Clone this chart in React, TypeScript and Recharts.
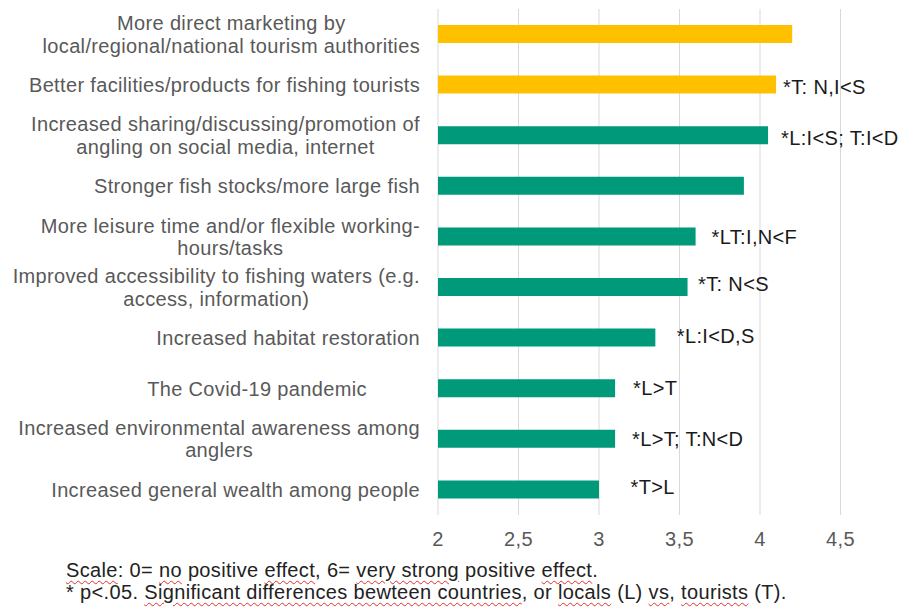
import React from 'react';
import { BarChart, Bar, XAxis, YAxis, CartesianGrid, Cell, LabelList } from 'recharts';

// ---- data ----
const categories: string[] = [
  'More direct marketing by\nlocal/regional/national tourism authorities',
  'Better facilities/products for fishing tourists',
  'Increased sharing/discussing/promotion of\nangling on social media, internet',
  'Stronger fish stocks/more large fish',
  'More leisure time and/or flexible working-\nhours/tasks',
  'Improved accessibility to fishing waters (e.g.\naccess, information)',
  'Increased habitat restoration',
  'The Covid-19 pandemic\u00A0\u00A0\u00A0\u00A0\u00A0\u00A0\u00A0\u00A0\u00A0',
  'Increased environmental awareness among\nanglers',
  'Increased general wealth among people',
];
const meanEffect: number[] = [4.2, 4.1, 4.05, 3.9, 3.6, 3.55, 3.35, 3.1, 3.1, 3.0];
const significance: string[] = [
  '',
  '*T: N,I<S',
  '*L:I<S; T:I<D',
  '',
  '*LT:I,N<F',
  '*T: N<S',
  '*L:I<D,S',
  '*L>T',
  '*L>T; T:N<D',
  '*T>L',
];
const factorGroup: string[] = ['top', 'top', 'other', 'other', 'other', 'other', 'other', 'other', 'other', 'other'];
const xTicks: number[] = [2, 2.5, 3, 3.5, 4, 4.5];

const chartData = categories.map((category, i) => ({
  category,
  value: meanEffect[i],
  note: significance[i],
  group: factorGroup[i],
}));

// ---- styles ----
const FONT = '"Liberation Sans", Arial, Helvetica, sans-serif';
const FONT_SIZE = 20;
const LETTER_SPACING = 0.35;
const LINE_HEIGHT = 22.5;
const LABEL_COLOR = '#595959';
const GROUP_COLORS: Record<string, string> = { top: '#FFC000', other: '#00997A' };

// manual placement tweaks for the annotation text boxes (pixels relative to bar end / bar centre)
const NOTE_NUDGE: Record<string, [number, number]> = {
  '*T: N,I<S': [7, 2.5],
  '*L:I<S; T:I<D': [13, 3],
  '*LT:I,N<F': [16, 0],
  '*T: N<S': [10.5, -3.5],
  '*L:I<D,S': [21.5, -2],
  '*L>T': [18, 0],
  '*L>T; T:N<D': [17, 0],
  '*T>L': [31.5, -2.5],
};

let measureCtx: CanvasRenderingContext2D | null = null;
function measure(text: string): number {
  if (!measureCtx) {
    measureCtx = document.createElement('canvas').getContext('2d');
  }
  if (!measureCtx) return text.length * FONT_SIZE * 0.5;
  measureCtx.font = `${FONT_SIZE}px "Liberation Sans", Arial, sans-serif`;
  return measureCtx.measureText(text).width + text.length * LETTER_SPACING;
}

function CategoryTick(props: any) {
  const { x, y, payload } = props;
  const lines = String(payload.value).split('\n');
  const w = Math.max(...lines.map((l) => measure(l)));
  const cx = x - w / 2;
  return (
    <g>
      {lines.map((l, i) => (
        <text
          key={i}
          x={cx}
          y={y + (i - (lines.length - 1) / 2) * LINE_HEIGHT}
          dy="0.355em"
          textAnchor="middle"
          fontSize={FONT_SIZE}
          fontFamily={FONT}
          letterSpacing={LETTER_SPACING}
          fill={LABEL_COLOR}
        >
          {l}
        </text>
      ))}
    </g>
  );
}

function NoteLabel(props: any) {
  const { x, y, width, height, value } = props;
  if (!value) return null;
  const [dx, dy] = NOTE_NUDGE[value] || [10, 0];
  return (
    <text
      x={Number(x) + Number(width) + dx}
      y={Number(y) + Number(height) / 2 + dy}
      dy="0.355em"
      textAnchor="start"
      fontSize={FONT_SIZE}
      fontFamily={FONT}
      letterSpacing={LETTER_SPACING}
      fill="#1a1a1a"
    >
      {value}
    </text>
  );
}

const squiggle: React.CSSProperties = {
  textDecorationLine: 'underline',
  textDecorationStyle: 'wavy',
  textDecorationColor: '#e03030',
  textDecorationThickness: '1px',
  textUnderlineOffset: '3px',
};

export default function App() {
  return (
    <div style={{ position: 'absolute', left: 0, top: 0, width: 899, height: 608, background: '#fff', overflow: 'hidden' }}>
      <BarChart
        width={941}
        height={560}
        data={chartData}
        layout="vertical"
        margin={{ top: 9, right: 20, bottom: 0, left: 0 }}
      >
        <CartesianGrid horizontal={false} stroke="#d9d9d9" strokeWidth={1} />
        <XAxis
          type="number"
          domain={[2, 5]}
          allowDataOverflow
          ticks={xTicks}
          tickFormatter={(v: number) => String(v).replace('.', ',')}
          axisLine={false}
          tickLine={false}
          tickMargin={11}
          height={45}
          tick={{ fontSize: FONT_SIZE, fill: LABEL_COLOR, fontFamily: FONT, letterSpacing: LETTER_SPACING }}
        />
        <YAxis
          type="category"
          dataKey="category"
          width={438}
          axisLine={false}
          tickLine={false}
          tickMargin={12}
          interval={0}
          tick={<CategoryTick />}
        />
        <Bar dataKey="value" barSize={18} isAnimationActive={false}>
          {chartData.map((d, i) => (
            <Cell key={i} fill={GROUP_COLORS[d.group]} />
          ))}
          <LabelList dataKey="note" content={<NoteLabel />} />
        </Bar>
      </BarChart>
      <div
        style={{
          position: 'absolute',
          left: 66,
          top: 559,
          fontFamily: FONT,
          fontSize: FONT_SIZE,
          letterSpacing: LETTER_SPACING,
          lineHeight: '22px',
          color: '#222',
          whiteSpace: 'nowrap',
        }}
      >
        <div>
          <span style={squiggle}>Scale</span>: 0= <span style={squiggle}>no</span> positive{' '}
          <span style={squiggle}>effect</span>, 6= <span style={squiggle}>very strong</span> positive{' '}
          <span style={squiggle}>effect</span>.
        </div>
        <div>
          * p&lt;.05. <span style={squiggle}>Significant differences bewteen countries</span>, or{' '}
          <span style={squiggle}>locals</span> (L) <span style={squiggle}>vs</span>,{' '}
          <span style={squiggle}>tourists</span> (T).
        </div>
      </div>
    </div>
  );
}
